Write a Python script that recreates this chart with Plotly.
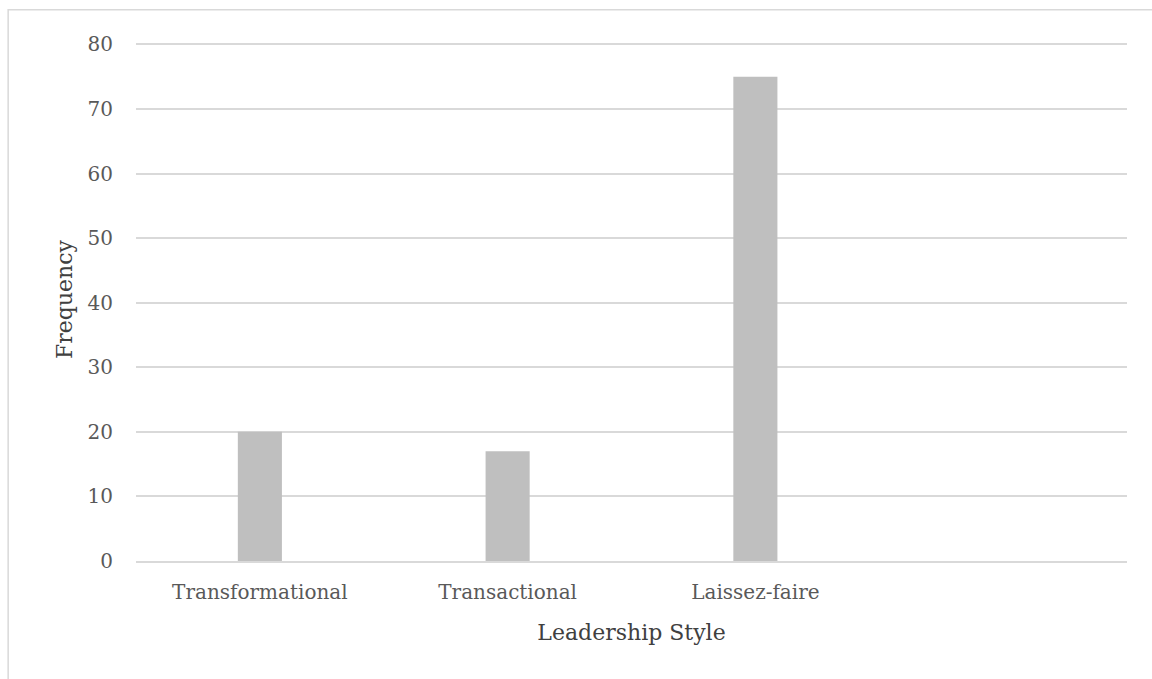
import plotly.graph_objects as go

categories = ["Transformational", "Transactional", "Laissez-faire"]
frequency = [20, 17, 75]
y_ticks = [0, 10, 20, 30, 40, 50, 60, 70, 80]

FONT = "DejaVu Serif, Liberation Serif, serif"

fig = go.Figure()
fig.add_trace(go.Bar(
    x=categories, y=frequency,
    marker=dict(color="#bfbfbf", line=dict(width=0)),
    width=0.178,
))

fig.update_layout(
    width=1152, height=679,
    margin=dict(l=136, r=25, t=38, b=118),
    paper_bgcolor="white", plot_bgcolor="white",
    showlegend=False,
    font=dict(family=FONT, color="#595959", size=20),
    bargap=0.82,
)
fig.update_xaxes(
    type="category",
    range=[-0.5, 3.5],
    showgrid=False, zeroline=False,
    showline=True, linecolor="#d9d9d9", linewidth=1.5,
    ticks="", ticklabelstandoff=12,
    tickfont=dict(family=FONT, size=20, color="#595959"),
    title=dict(text="Leadership Style", font=dict(family=FONT, size=22, color="#404040"), standoff=22),
)
fig.update_yaxes(
    range=[0, 81],
    tickvals=y_ticks,
    showgrid=True, gridcolor="#d9d9d9", gridwidth=1.5,
    zeroline=False, showline=False,
    ticks="", ticklabelstandoff=22,
    tickfont=dict(family=FONT, size=20, color="#595959"),
    title=dict(text="Frequency", font=dict(family=FONT, size=22, color="#404040"), standoff=8),
)
fig.add_shape(type="rect", xref="paper", yref="paper",
              x0=-0.129, x1=1.3, y0=-0.4, y1=1.054,
              line=dict(color="#d9d9d9", width=1.5), fillcolor="rgba(0,0,0,0)", layer="below")

fig.write_html("out.html")
